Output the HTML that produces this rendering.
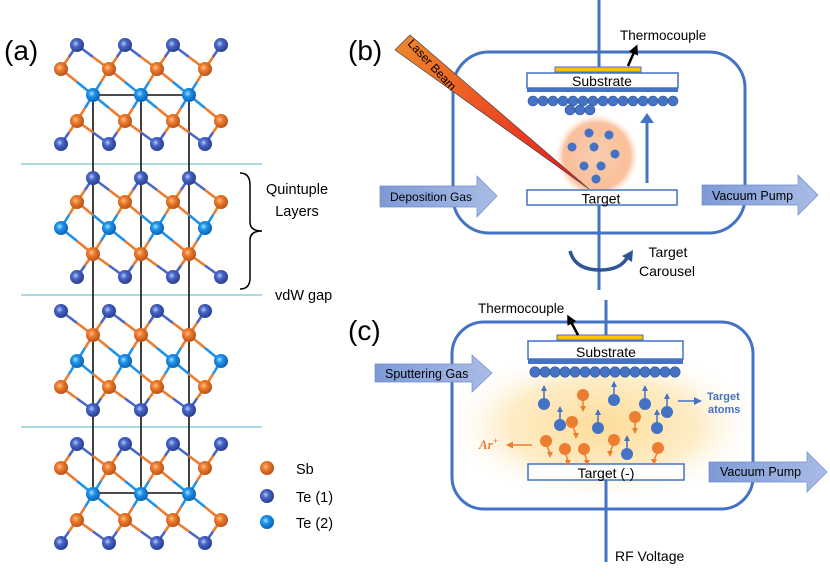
<!DOCTYPE html>
<html><head><meta charset="utf-8"><style>
html,body{margin:0;padding:0;background:#fff;}
svg{display:block;font-family:"Liberation Sans",sans-serif;}
</style></head><body>
<svg id="s" width="830" height="579" viewBox="0 0 830 579" xmlns="http://www.w3.org/2000/svg">
<defs>
<radialGradient id="gSb" cx="0.4" cy="0.4" r="0.6"><stop offset="0" stop-color="#FFC08A"/><stop offset="0.4" stop-color="#EE7B2C"/><stop offset="1" stop-color="#B8541A"/></radialGradient>
<radialGradient id="gT1" cx="0.4" cy="0.4" r="0.6"><stop offset="0" stop-color="#B8C8F5"/><stop offset="0.4" stop-color="#4565C8"/><stop offset="1" stop-color="#2A3F90"/></radialGradient>
<radialGradient id="gT2" cx="0.4" cy="0.4" r="0.6"><stop offset="0" stop-color="#A8E0FF"/><stop offset="0.4" stop-color="#1C92EC"/><stop offset="1" stop-color="#0D63B0"/></radialGradient>
<linearGradient id="arr" x1="0" y1="0" x2="1" y2="0"><stop offset="0" stop-color="#7E9AD6"/><stop offset="1" stop-color="#A9BCE6"/></linearGradient>
<linearGradient id="laser" x1="0" y1="0" x2="1" y2="1"><stop offset="0" stop-color="#EE8A2A"/><stop offset="1" stop-color="#E8141C"/></linearGradient>
<radialGradient id="plume"><stop offset="0" stop-color="#F8CDB0"/><stop offset="0.55" stop-color="#F9C3A0"/><stop offset="0.8" stop-color="#F8A878" stop-opacity="0.7"/><stop offset="1" stop-color="#FDE6D6" stop-opacity="0"/></radialGradient>
<radialGradient id="glow"><stop offset="0" stop-color="#FDDC98"/><stop offset="0.6" stop-color="#FEEDC8"/><stop offset="1" stop-color="#FFFFFF" stop-opacity="0"/></radialGradient>
<marker id="mb" markerWidth="8" markerHeight="8" refX="4" refY="4" orient="auto" markerUnits="userSpaceOnUse"><path d="M0,0 L8,4 L0,8 z" fill="#4472C4"/></marker>
<marker id="mo" markerWidth="7" markerHeight="7" refX="3" refY="3.5" orient="auto" markerUnits="userSpaceOnUse"><path d="M0,0 L7,3.5 L0,7 z" fill="#ED7D31"/></marker>
<marker id="mk" markerWidth="10" markerHeight="10" refX="4" refY="5" orient="auto" markerUnits="userSpaceOnUse"><path d="M0,0 L10,5 L0,10 z" fill="#000"/></marker>
</defs>
<g id="crys"></g>
<text x="4" y="60" font-size="28">(a)</text>
<path d="M240,173 Q250,173 250,185 L250,222 Q250,231 262,231 Q250,231 250,240 L250,278 Q250,289 240,289" fill="none" stroke="#000" stroke-width="1.5"/>
<text x="297" y="194" font-size="14.5" text-anchor="middle">Quintuple</text>
<text x="297" y="216" font-size="14.5" text-anchor="middle">Layers</text>
<text x="275" y="300" font-size="14.5">vdW gap</text>
<circle cx="267" cy="468" r="7" fill="url(#gSb)"/><text x="296" y="474" font-size="14.5">Sb</text>
<circle cx="267" cy="496" r="7" fill="url(#gT1)"/><text x="296" y="502" font-size="14.5">Te (1)</text>
<circle cx="267" cy="522" r="7" fill="url(#gT2)"/><text x="296" y="528" font-size="14.5">Te (2)</text>

<text x="348" y="60" font-size="28">(b)</text>
<rect x="453" y="52" width="292" height="181" rx="36" fill="none" stroke="#4472C4" stroke-width="3"/>
<line x1="599" y1="0" x2="599" y2="74" stroke="#4472C4" stroke-width="3"/>
<line x1="599" y1="205" x2="599" y2="290" stroke="#4472C4" stroke-width="3"/>
<rect x="555" y="67" width="86" height="5" fill="#FFC000" stroke="#4472C4" stroke-width="1"/>
<rect x="527" y="73" width="151" height="15" fill="#fff" stroke="#4472C4" stroke-width="1.5"/>
<rect x="527" y="88" width="151" height="4" fill="#4472C4"/>
<text x="602" y="86" font-size="14" text-anchor="middle">Substrate</text>
<g id="bdots" fill="#4472C4" stroke="#2F5597" stroke-width="0.6"></g>
<text x="620" y="40" font-size="13.5">Thermocouple</text>
<line x1="628" y1="66" x2="635" y2="50" stroke="#000" stroke-width="2.5" marker-end="url(#mk)"/>
<circle cx="597" cy="156" r="42" fill="url(#plume)"/>
<g fill="#4472C4"><circle cx="589" cy="133" r="4.5"/><circle cx="609" cy="135" r="4.5"/><circle cx="572" cy="147" r="4.5"/><circle cx="594" cy="147" r="4.5"/><circle cx="615" cy="154" r="4.5"/><circle cx="584" cy="166" r="4.5"/><circle cx="601" cy="166" r="4.5"/><circle cx="596" cy="179" r="4.5"/></g>
<polygon points="395,50 410,35 589,189" fill="url(#laser)" stroke="#444" stroke-width="0.7"/>
<text x="0" y="0" font-size="12" transform="translate(407,44) rotate(47)">Laser Beam</text>
<line x1="647" y1="183" x2="647" y2="122" stroke="#4472C4" stroke-width="3"/>
<path d="M640,123 L647,113 L654,123 z" fill="#4472C4"/>
<rect x="527" y="190" width="150" height="15" fill="#fff" stroke="#4472C4" stroke-width="1.5"/>
<text x="601" y="203.5" font-size="14" text-anchor="middle">Target</text>
<path d="M380,186 L477,186 L477,176 L497,196 L477,217 L477,207 L380,207 z" fill="url(#arr)" stroke="#6E8CCB" stroke-width="0.7"/>
<text x="390" y="201" font-size="12">Deposition Gas</text>
<path d="M702,185 L798,185 L798,175 L818,195 L798,215 L798,205 L702,205 z" fill="url(#arr)" stroke="#6E8CCB" stroke-width="0.7"/>
<text x="712" y="200" font-size="12.5">Vacuum Pump</text>
<path d="M570,251 Q575,270 600,270 Q620,270 627,258" fill="none" stroke="#2F5597" stroke-width="3.5"/>
<path d="M622,256 L633,250 L632,262 z" fill="#2F5597"/>
<text x="668" y="257" font-size="14" text-anchor="middle">Target</text>
<text x="667" y="276" font-size="14" text-anchor="middle">Carousel</text>

<text x="348" y="340" font-size="28">(c)</text>
<ellipse cx="603" cy="425" rx="160" ry="78" fill="url(#glow)"/>
<rect x="452" y="322" width="301" height="187" rx="32" fill="none" stroke="#4472C4" stroke-width="3"/>
<line x1="606" y1="300" x2="606" y2="342" stroke="#4472C4" stroke-width="3"/>
<line x1="606" y1="480" x2="606" y2="562" stroke="#4472C4" stroke-width="3"/>
<rect x="557" y="335" width="86" height="5" fill="#FFC000" stroke="#4472C4" stroke-width="1"/>
<rect x="528" y="341" width="155" height="18" fill="#fff" stroke="#4472C4" stroke-width="1.5"/>
<rect x="528" y="359" width="155" height="5" fill="#4472C4"/>
<text x="606" y="357" font-size="14" text-anchor="middle">Substrate</text>
<g id="cdots" fill="#4472C4" stroke="#2F5597" stroke-width="0.6"></g>
<text x="478" y="313" font-size="13.5">Thermocouple</text>
<line x1="578" y1="335" x2="570" y2="320" stroke="#000" stroke-width="2.5" marker-end="url(#mk)"/>
<path d="M375,364 L472,364 L472,355 L492,373 L472,392 L472,382 L375,382 z" fill="url(#arr)" stroke="#6E8CCB" stroke-width="0.7"/>
<text x="385" y="378" font-size="12.5">Sputtering Gas</text>
<path d="M709,462 L807,462 L807,452 L827,472 L807,492 L807,482 L709,482 z" fill="url(#arr)" stroke="#6E8CCB" stroke-width="0.7"/>
<text x="720" y="476" font-size="12.5">Vacuum Pump</text>
<rect x="528" y="464" width="156" height="16" fill="#fff" stroke="#4472C4" stroke-width="1.5"/>
<text x="606" y="478" font-size="14" text-anchor="middle">Target (-)</text>
<g id="parts"></g>
<line x1="678" y1="401" x2="698" y2="401" stroke="#4472C4" stroke-width="1.5" marker-end="url(#mb)"/>
<text x="707" y="400" font-size="11" font-weight="bold" fill="#4472C4">Target</text>
<text x="708" y="413" font-size="11" font-weight="bold" fill="#4472C4">atoms</text>
<text x="479" y="449" font-size="13" font-style="italic" font-family="Liberation Serif" font-weight="bold" fill="#ED7D31">Ar<tspan font-size="9" dy="-5">+</tspan></text>
<line x1="532" y1="445" x2="510" y2="445" stroke="#ED7D31" stroke-width="1.5" marker-end="url(#mo)"/>
<text x="615" y="561" font-size="14">RF Voltage</text>
</svg>
<script>
var NS="http://www.w3.org/2000/svg";
function el(p,t,a){var e=document.createElementNS(NS,t);for(var k in a)e.setAttribute(k,a[k]);p.appendChild(e);return e;}
var g=document.getElementById('crys');
[164,295,427].forEach(function(y){el(g,'line',{x1:21,y1:y,x2:262,y2:y,stroke:'#8FCFD6','stroke-width':1.5});});
[93,141,189].forEach(function(x){el(g,'line',{x1:x,y1:95,x2:x,y2:493,stroke:'#111','stroke-width':1.6});});
el(g,'line',{x1:93,y1:95,x2:189,y2:95,stroke:'#111','stroke-width':1.6});
el(g,'line',{x1:93,y1:493,x2:189,y2:493,stroke:'#111','stroke-width':1.6});
var off={A:0,B:-16,C:-32};
var blocks=[[45,"BCABC"],[178,"ABCAB"],[311,"CABCA"],[444,"BCABC"]];
var dy=[0,24,50,76,99];
var sp=['T1','Sb','T2','Sb','T1'];
var col={T1:'#4A67C6',Sb:'#EE7B2C',T2:'#1E92EA'};
var atoms=[],bonds=[];
blocks.forEach(function(b){
  var layers=[];
  for(var i=0;i<5;i++){
    var xs=[];for(var k=-2;k<6;k++){var x=93+48*k+off[b[1][i]];if(x>=55&&x<=226)xs.push(x);}
    layers.push({y:b[0]+dy[i],xs:xs,s:sp[i]});
  }
  for(var i=0;i<4;i++){var L=layers[i],M=layers[i+1];
    L.xs.forEach(function(x1){M.xs.forEach(function(x2){if(Math.abs(x1-x2)<=33){bonds.push([x1,L.y,L.s,x2,M.y,M.s]);}});});}
  layers.forEach(function(L){L.xs.forEach(function(x){atoms.push([x,L.y,L.s]);});});
});
bonds.forEach(function(b){var mx=(b[0]+b[3])/2,my=(b[1]+b[4])/2;
  el(g,'line',{x1:b[0],y1:b[1],x2:mx,y2:my,stroke:col[b[2]],'stroke-width':2.6});
  el(g,'line',{x1:mx,y1:my,x2:b[3],y2:b[4],stroke:col[b[5]],'stroke-width':2.6});});
atoms.forEach(function(a){el(g,'circle',{cx:a[0],cy:a[1],r:7,fill:'url(#g'+a[2]+')'});});
var bd=document.getElementById('bdots');
for(var x=533;x<=673;x+=10)el(bd,'circle',{cx:x,cy:101,r:5});
[570,580,590].forEach(function(x){el(bd,'circle',{cx:x,cy:110,r:5});});
var cd=document.getElementById('cdots');
for(var x=535;x<=675;x+=10)el(cd,'circle',{cx:x,cy:372,r:5.2});
var p=document.getElementById('parts');
[[544,404],[560,425],[598,428],[614,400],[645,404],[657,428],[667,412],[627,454]].forEach(function(c){
  el(p,'line',{x1:c[0],y1:c[1]-4,x2:c[0],y2:c[1]-14,stroke:'#4472C4','stroke-width':1.5});
  el(p,'path',{d:'M'+(c[0]-3)+','+(c[1]-13)+' L'+c[0]+','+(c[1]-19)+' L'+(c[0]+3)+','+(c[1]-13)+' z',fill:'#4472C4'});
  el(p,'circle',{cx:c[0],cy:c[1],r:6,fill:'#4472C4'});});
[[583,395,0],[572,422,4],[635,417,0],[546,441,4],[565,449,3],[584,449,3],[614,440,-4],[658,448,-4]].forEach(function(c){
  var ex=c[0]+c[2],ey=c[1]+15;
  el(p,'line',{x1:c[0],y1:c[1]+3,x2:ex,y2:ey-3,stroke:'#ED7D31','stroke-width':1.5});
  el(p,'path',{d:'M'+(ex-3)+','+(ey-4)+' L'+ex+','+(ey+2)+' L'+(ex+3)+','+(ey-4)+' z',fill:'#ED7D31'});
  el(p,'circle',{cx:c[0],cy:c[1],r:6,fill:'#ED7D31'});});
</script>
</body></html>
